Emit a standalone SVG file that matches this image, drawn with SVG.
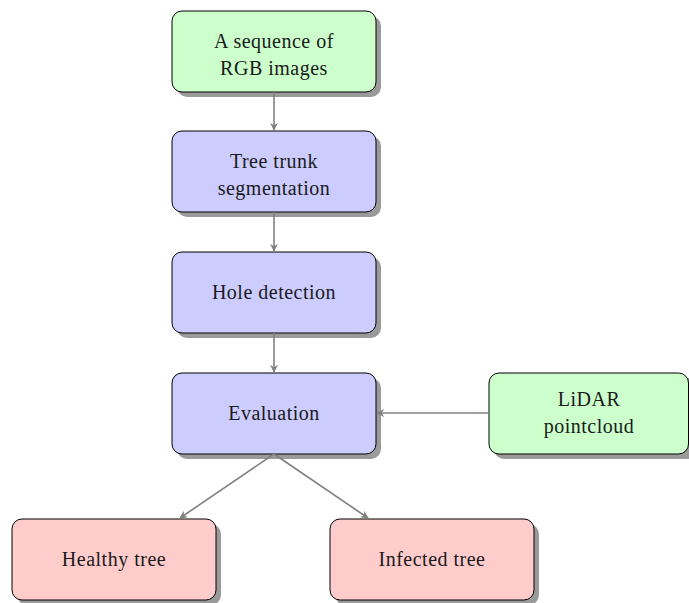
<svg xmlns="http://www.w3.org/2000/svg" width="689" height="603" viewBox="0 0 689 603">
<style>
.sh{fill:#9a9a9a}
.box{stroke:#000;stroke-width:1}
.g{fill:#ccffcc}.b{fill:#ccccff}.r{fill:#ffcccc}
text{font-family:"Liberation Serif","Times New Roman",serif;font-size:20px;letter-spacing:0.5px;fill:#1a1a1a;text-anchor:middle}
.c line{stroke:#808080;stroke-width:1.6;marker-end:url(#ah)}
</style>
<defs>
<marker id="ah" viewBox="0 0 10 10" refX="9" refY="5" markerWidth="8" markerHeight="8" markerUnits="userSpaceOnUse" orient="auto">
<path d="M0,0 L10,5 L0,10 L3,5 Z" fill="#808080"/>
</marker>
</defs>
<rect width="689" height="603" fill="#fff"/>
<g id="n1"><rect class="sh" x="177" y="16" width="204" height="81" rx="10"/><rect class="box g" x="172" y="11" width="204" height="81" rx="10"/><text x="274" y="48">A sequence of</text><text x="274" y="75">RGB images</text></g>
<g id="n2"><rect class="sh" x="177" y="136" width="204" height="81" rx="10"/><rect class="box b" x="172" y="131" width="204" height="81" rx="10"/><text x="274" y="168">Tree trunk</text><text x="274" y="195">segmentation</text></g>
<g id="n3"><rect class="sh" x="177" y="257" width="204" height="81" rx="10"/><rect class="box b" x="172" y="252" width="204" height="81" rx="10"/><text x="274" y="299">Hole detection</text></g>
<g id="n4"><rect class="sh" x="177" y="378" width="204" height="81" rx="10"/><rect class="box b" x="172" y="373" width="204" height="81" rx="10"/><text x="274" y="420">Evaluation</text></g>
<g id="n5"><rect class="sh" x="494" y="378" width="204" height="81" rx="10"/><rect class="box g" x="489" y="373" width="199.5" height="81" rx="10"/><text x="589" y="406">LiDAR</text><text x="589" y="433">pointcloud</text></g>
<g id="n6"><rect class="sh" x="17" y="524" width="204" height="81" rx="10"/><rect class="box r" x="12" y="519" width="204" height="81" rx="10"/><text x="114" y="566">Healthy tree</text></g>
<g id="n7"><rect class="sh" x="335" y="524" width="204" height="81" rx="10"/><rect class="box r" x="330" y="519" width="204" height="81" rx="10"/><text x="432" y="566">Infected tree</text></g>
<g class="c">
<line x1="274" y1="92" x2="274" y2="130"/>
<line x1="274" y1="212" x2="274" y2="251"/>
<line x1="274" y1="333" x2="274" y2="372"/>
<line x1="489" y1="413" x2="377" y2="413"/>
<line x1="274" y1="454" x2="180" y2="518"/>
<line x1="274" y1="454" x2="368" y2="518"/>
</g>
</svg>
